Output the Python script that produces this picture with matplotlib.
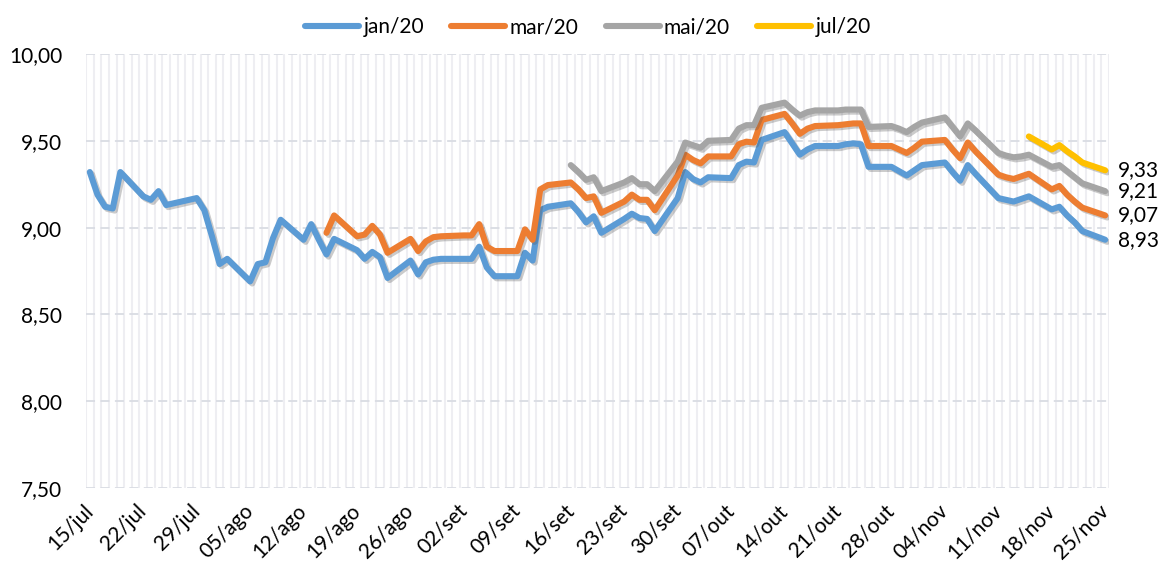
import matplotlib
matplotlib.use("Agg")
import matplotlib.pyplot as plt
import matplotlib.patheffects as pe
import numpy as np
import pandas as pd

plt.rcParams['font.family'] = ['Lato', 'DejaVu Sans']

# business days from 15/jul to 25/nov
dates = pd.bdate_range("2019-07-15", "2019-11-25")

jan20 = [9.32, 9.19, 9.12, 9.11, 9.32,
         9.18, 9.16, 9.21, 9.13, 9.14,
         9.17, 9.10, 8.95, 8.79, 8.82,
         8.69, 8.79, 8.80, 8.94, 9.045,
         8.93, 9.02, 8.93, 8.845, 8.935,
         8.87, 8.82, 8.86, 8.83, 8.71,
         8.81, 8.73, 8.80, 8.815, 8.82,
         8.82, 8.82, 8.89, 8.77, 8.72,
         8.72, 8.855, 8.81, 9.10, 9.12,
         9.14, 9.09, 9.03, 9.065, 8.97,
         9.05, 9.08, 9.055, 9.05, 8.98,
         9.17, 9.32, 9.28, 9.26, 9.29,
         9.285, 9.36, 9.38, 9.375, 9.505,
         9.55, 9.485, 9.42, 9.45, 9.47,
         9.47, 9.48, 9.485, 9.48, 9.35,
         9.35, 9.325, 9.30, 9.33, 9.36,
         9.375, 9.32, 9.27, 9.36, 9.31,
         9.17, 9.16, 9.15, 9.165, 9.18,
         9.105, 9.12, 9.07, 9.03, 8.98,
         8.93]

mar20 = [None] * 23 + [8.97, 9.07,
         8.95, 8.96, 9.01, 8.96, 8.855,
         8.935, 8.865, 8.92, 8.945, 8.95,
         8.955, 8.955, 9.02, 8.89, 8.865,
         8.865, 8.99, 8.93, 9.22, 9.245,
         9.26, 9.22, 9.17, 9.18, 9.085,
         9.15, 9.19, 9.16, 9.16, 9.10,
         9.30, 9.42, 9.39, 9.37, 9.41,
         9.41, 9.48, 9.495, 9.49, 9.62,
         9.655, 9.60, 9.54, 9.57, 9.585,
         9.59, 9.595, 9.60, 9.60, 9.47,
         9.47, 9.45, 9.43, 9.46, 9.495,
         9.505, 9.45, 9.40, 9.49, 9.44,
         9.305, 9.29, 9.28, 9.295, 9.31,
         9.22, 9.24, 9.19, 9.15, 9.115,
         9.07]

mai20 = [None] * 45 + [9.36, 9.32, 9.275, 9.29, 9.21,
         9.26, 9.285, 9.25, 9.25, 9.21,
         9.38, 9.49, 9.475, 9.46, 9.50,
         9.505, 9.57, 9.59, 9.59, 9.69,
         9.72, 9.68, 9.645, 9.665, 9.675,
         9.675, 9.68, 9.68, 9.68, 9.58,
         9.585, 9.57, 9.55, 9.58, 9.605,
         9.635, 9.58, 9.525, 9.60, 9.56,
         9.43, 9.415, 9.405, 9.41, 9.42,
         9.35, 9.36, 9.325, 9.29, 9.255,
         9.21]

jul20 = [None] * 89 + [9.525,
         9.45, 9.475, 9.44, 9.41, 9.375,
         9.33]

series = {
    'jan/20': (jan20, '#5B9BD5'),
    'mar/20': (mar20, '#ED7D31'),
    'mai/20': (mai20, '#A5A5A5'),
    'jul/20': (jul20, '#FFC000'),
}

tick_labels = ['15/jul', '22/jul', '29/jul', '05/ago', '12/ago', '19/ago', '26/ago',
               '02/set', '09/set', '16/set', '23/set', '30/set', '07/out', '14/out',
               '21/out', '28/out', '04/nov', '11/nov', '18/nov', '25/nov']

days = np.array((dates - dates[0]).days)
ndays = days[-1]

fig = plt.figure(figsize=(11.62, 5.67), dpi=100)
ax = fig.add_axes([86 / 1162, 1 - 488 / 567, (1109 - 86) / 1162, (488 - 54) / 567])

# daily vertical gridlines and dashed horizontal ones
for b in np.arange(-0.5, ndays + 1, 1.0):
    ax.axvline(b, color='#EEEEF2', lw=1.5, zorder=0)
for yv in np.arange(7.5, 10.01, 0.5):
    ax.axhline(yv, color='#D9DCE3', lw=1.3, dashes=(5, 3), zorder=0.5)

shadow = [pe.SimpleLineShadow(offset=(1.5, -1.5), shadow_color='#555555', alpha=0.3),
          pe.Normal()]

for name, (vals, color) in series.items():
    v = np.array([np.nan if x is None else x for x in vals], dtype=float)
    ax.plot(days, v, color=color, lw=4.4, label=name,
            solid_capstyle='round', solid_joinstyle='round',
            path_effects=shadow, zorder=3)
    ax.annotate(f"{v[-1]:.2f}".replace('.', ','), xy=(days[-1], v[-1]),
                xytext=(9, 0), textcoords='offset points', va='center',
                ha='left', fontsize=15, color='black', annotation_clip=False)

ax.set_xlim(-0.5, ndays + 0.5)
ax.set_ylim(7.5, 10.0)
ax.set_yticks(np.arange(7.5, 10.01, 0.5))
ax.set_yticklabels([f"{t:.2f}".replace('.', ',') for t in np.arange(7.5, 10.01, 0.5)])
ax.set_xticks(np.arange(0, ndays + 1, 7))
ax.set_xticklabels(tick_labels, rotation=45, ha='right', va='center',
                   rotation_mode='anchor')
ax.tick_params(axis='both', length=0, labelsize=15, labelcolor='black')
ax.tick_params(axis='y', pad=17)
ax.tick_params(axis='x', pad=14)
for s in ax.spines.values():
    s.set_visible(False)

leg = fig.legend(loc='center', bbox_to_anchor=(0.506, 0.952), ncol=4, frameon=False,
                 fontsize=15, handlelength=2.6, handletextpad=0.2, columnspacing=1.3)
for h in leg.get_lines():
    h.set_path_effects([])

fig.savefig('out.png', dpi=100)
